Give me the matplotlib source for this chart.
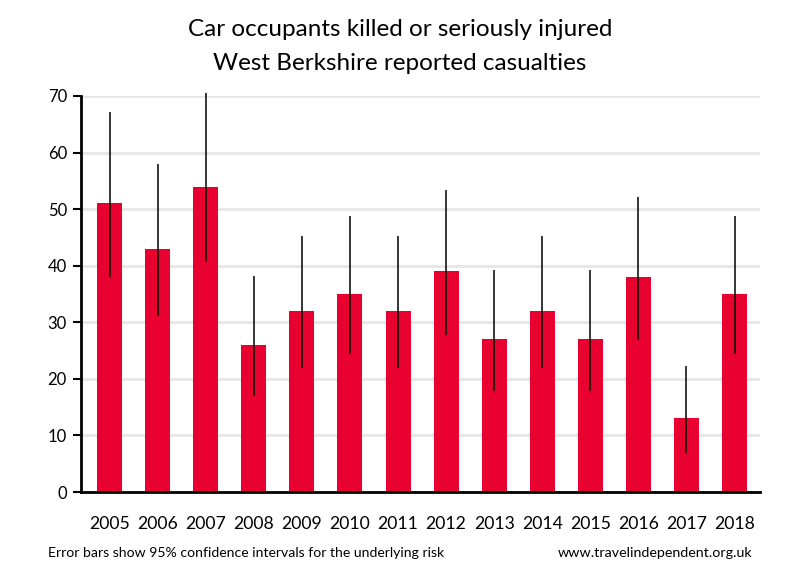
import matplotlib
matplotlib.use("Agg")
import matplotlib.pyplot as plt
import numpy as np

plt.rcParams['font.family'] = ['Lato', 'DejaVu Sans']

# values
years = ["2005", "2006", "2007", "2008", "2009", "2010", "2011",
         "2012", "2013", "2014", "2015", "2016", "2017", "2018"]
casualties = [51, 43, 54, 26, 32, 35, 32, 39, 27, 32, 27, 38, 13, 35]
ci_low = [38.0, 31.1, 40.6, 17.0, 21.9, 24.4, 21.9, 27.7, 17.8, 21.9, 17.8, 26.9, 6.9, 24.4]
ci_high = [67.1, 57.9, 70.5, 38.1, 45.2, 48.7, 45.2, 53.3, 39.3, 45.2, 39.3, 52.2, 22.2, 48.7]

fig = plt.figure(figsize=(8, 5.8), dpi=100)
ax = fig.add_axes([0.101, 0.1517, 0.849, 0.6828])

x = np.arange(len(years))
ax.bar(x, casualties, width=0.52, color="#e80030", zorder=2)
ax.vlines(x, ci_low, ci_high, color="black", linewidth=1.1, zorder=3, clip_on=False)

ax.set_xlim(-0.6, 13.53)
ax.set_ylim(0, 70)
ax.set_yticks(np.arange(0, 71, 10))
ax.yaxis.grid(True, color="#e6e6e6", linewidth=2, zorder=0)
ax.set_axisbelow(True)

ax.set_xticks(x)
ax.set_xticklabels(years, fontsize=12.7)
ax.tick_params(axis="x", length=0, pad=17)
ax.tick_params(axis="y", length=6, width=1.5, pad=4, labelsize=12)

for s in ["top", "right"]:
    ax.spines[s].set_visible(False)
ax.spines["left"].set_linewidth(2)
ax.spines["bottom"].set_linewidth(2)

fig.text(0.5, 0.95, "Car occupants killed or seriously injured",
         ha="center", va="center", fontsize=17.5)
fig.text(0.5, 0.89, "West Berkshire reported casualties",
         ha="center", va="center", fontsize=17.5)

fig.text(0.06, 0.046, "Error bars show 95% confidence intervals for the underlying risk",
         ha="left", va="center", fontsize=10.1)
fig.text(0.94, 0.046, "www.travelindependent.org.uk",
         ha="right", va="center", fontsize=10.3)

plt.savefig("out.png", dpi=100)
